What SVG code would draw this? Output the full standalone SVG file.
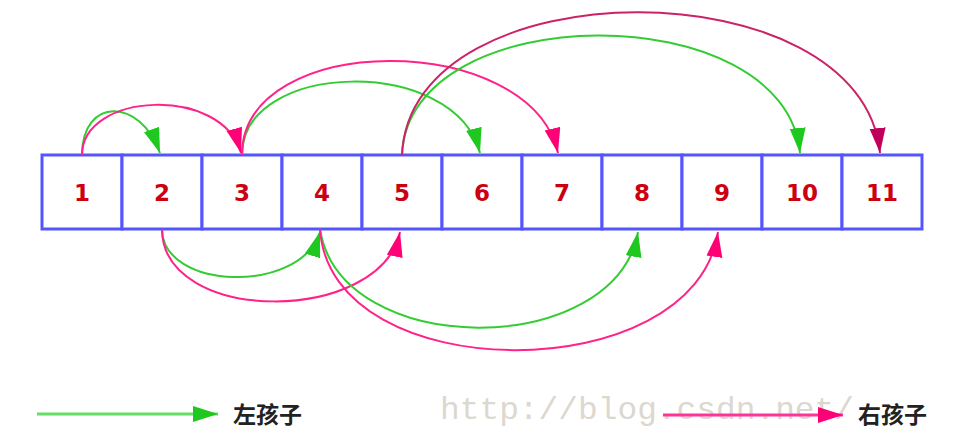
<svg xmlns="http://www.w3.org/2000/svg" width="954" height="436" viewBox="0 0 954 436">
<style>
.box{fill:#fff;stroke:#5555ff;stroke-width:3}
.num{font-family:"DejaVu Sans","Liberation Sans",sans-serif;font-weight:bold;font-size:23px;fill:#cc0011;text-anchor:middle}
.g{fill:none;stroke:#33cc33;stroke-width:2}
.p{fill:none;stroke:#ff2288;stroke-width:2}
.pd{fill:none;stroke:#cc2266;stroke-width:2}
.leg{font-family:"Noto Sans CJK SC","Noto Sans",sans-serif;font-weight:bold;font-size:23px;fill:#222}
.wm{font-family:"Liberation Mono",monospace;font-size:32px;fill:#dcd8d0}
</style>
<defs>
<marker id="ag" markerUnits="userSpaceOnUse" markerWidth="27" markerHeight="18" refX="25" refY="8" orient="auto"><path d="M0,0 L25,8 L0,16 z" fill="#1ec81e"/></marker>
<marker id="ap" markerUnits="userSpaceOnUse" markerWidth="27" markerHeight="18" refX="25" refY="8" orient="auto"><path d="M0,0 L25,8 L0,16 z" fill="#ff0077"/></marker>
<marker id="apd" markerUnits="userSpaceOnUse" markerWidth="27" markerHeight="18" refX="25" refY="8" orient="auto"><path d="M0,0 L25,8 L0,16 z" fill="#c0005a"/></marker>
</defs>
<text class="wm" x="440" y="419" textLength="414" lengthAdjust="spacingAndGlyphs">http://blog.csdn.net/</text>
<g id="cell1"><rect class="box" x="42" y="155" width="80" height="74"/><text class="num" x="82" y="201">1</text></g>
<g id="cell2"><rect class="box" x="122" y="155" width="80" height="74"/><text class="num" x="162" y="201">2</text></g>
<g id="cell3"><rect class="box" x="202" y="155" width="80" height="74"/><text class="num" x="242" y="201">3</text></g>
<g id="cell4"><rect class="box" x="282" y="155" width="80" height="74"/><text class="num" x="322" y="201">4</text></g>
<g id="cell5"><rect class="box" x="362" y="155" width="80" height="74"/><text class="num" x="402" y="201">5</text></g>
<g id="cell6"><rect class="box" x="442" y="155" width="80" height="74"/><text class="num" x="482" y="201">6</text></g>
<g id="cell7"><rect class="box" x="522" y="155" width="80" height="74"/><text class="num" x="562" y="201">7</text></g>
<g id="cell8"><rect class="box" x="602" y="155" width="80" height="74"/><text class="num" x="642" y="201">8</text></g>
<g id="cell9"><rect class="box" x="682" y="155" width="80" height="74"/><text class="num" x="722" y="201">9</text></g>
<g id="cell10"><rect class="box" x="762" y="155" width="80" height="74"/><text class="num" x="802" y="201">10</text></g>
<g id="cell11"><rect class="box" x="842" y="155" width="80" height="74"/><text class="num" x="882" y="201">11</text></g>
<g id="connectors">
<path class="g" d="M82,155 C82,97 140,97 160,153" marker-end="url(#ag)"/>
<path class="p" d="M82,155 C82,92 222,85 241,153" marker-end="url(#ap)"/>
<path class="g" d="M242,155 C242,60 455,55 480,153" marker-end="url(#ag)"/>
<path class="p" d="M242,155 C242,30 530,30 558,153" marker-end="url(#ap)"/>
<path class="g" d="M402,155 C408,-3 785,-5 800,153" marker-end="url(#ag)"/>
<path class="pd" d="M402,155 C410,-35 862,-35 880,153" marker-end="url(#apd)"/>
<path class="g" d="M162,229 C162,290 300,295 320,232" marker-end="url(#ag)"/>
<path class="p" d="M162,229 C162,325 380,325 400,232" marker-end="url(#ap)"/>
<path class="g" d="M320,229 C340,360 615,360 638,232" marker-end="url(#ag)"/>
<path class="p" d="M320,229 C330,390 695,390 718,232" marker-end="url(#ap)"/>
</g>
<g id="legend-left">
<line x1="37" y1="414" x2="218" y2="414" stroke="#66dd66" stroke-width="3" marker-end="url(#ag)"/>
<text class="leg" x="233" y="423">左孩子</text>
</g>
<g id="legend-right">
<line x1="663" y1="415" x2="843" y2="415" stroke="#ff3399" stroke-width="3" marker-end="url(#ap)"/>
<text class="leg" x="858" y="423">右孩子</text>
</g>
</svg>
